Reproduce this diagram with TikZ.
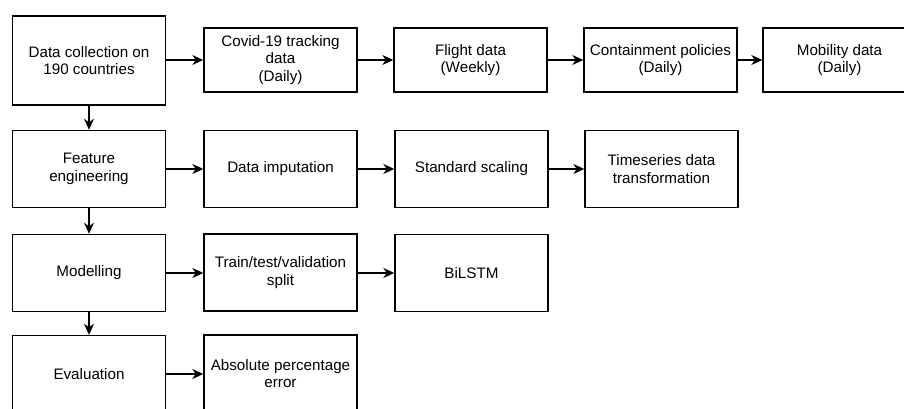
\documentclass[tikz,border=0pt]{standalone}
\usepackage{fontspec}
\setmainfont{Liberation Sans}
\usetikzlibrary{arrows.meta}
\begin{document}
\begin{tikzpicture}[x=1pt,y=-1pt,
  box/.style={draw, line width=1.4pt, minimum width=153pt, minimum height=77pt, align=center, inner sep=2pt,
    font=\fontsize{15.2}{17.8}\selectfont},
  small/.style={box, minimum height=64pt},
  big/.style={box, minimum height=89pt},
  arr/.style={line width=1.4pt, -{Stealth[length=11pt,width=10pt,inset=3.5pt]}}]
\useasboundingbox (0,0) rectangle (904,409);
\clip (0,0) rectangle (904,409);
% row 1
\node[big]   (dc)   at (89,60.5) {Data collection on\\190 countries};
\node[small] (cov)  at (280.5,60) {Covid-19 tracking\\data\\(Daily)};
\node[small] (fl)   at (470.5,60) {Flight data\\(Weekly)};
\node[small] (cp)   at (660.5,60) {Containment policies\\(Daily)};
\node[small] (mob)  at (839.5,60) {Mobility data\\(Daily)};
% row 2
\node[box] (fe)  at (89,169) {Feature\\engineering};
\node[box] (di)  at (280.5,169) {Data imputation};
\node[box] (ss)  at (471.5,169) {Standard scaling};
\node[box] (ts)  at (661.5,169) {Timeseries data\\transformation};
% row 3
\node[box] (mo)  at (89,273) {Modelling};
\node[box] (tt)  at (280.5,272.5) {Train/test/validation\\split};
\node[box] (bi)  at (471.5,273) {BiLSTM};
% row 4
\node[box] (ev)  at (89,374) {Evaluation};
\node[box] (ape) at (280.5,373.5) {Absolute percentage\\error};
% arrows
\draw[arr] (dc.east |- cov.west) -- (cov.west);
\draw[arr] (cov) -- (fl);
\draw[arr] (fl) -- (cp);
\draw[arr] (cp) -- (mob);
\draw[arr] (fe) -- (di);
\draw[arr] (di) -- (ss);
\draw[arr] (ss) -- (ts);
\draw[arr] (mo) -- (mo -| tt.west);
\draw[arr] (bi -| tt.east) -- (bi);
\draw[arr] (ev) -- (ev -| ape.west);
\draw[arr] (dc) -- (fe);
\draw[arr] (fe) -- (mo);
\draw[arr] (mo) -- (ev);
\end{tikzpicture}
\end{document}
